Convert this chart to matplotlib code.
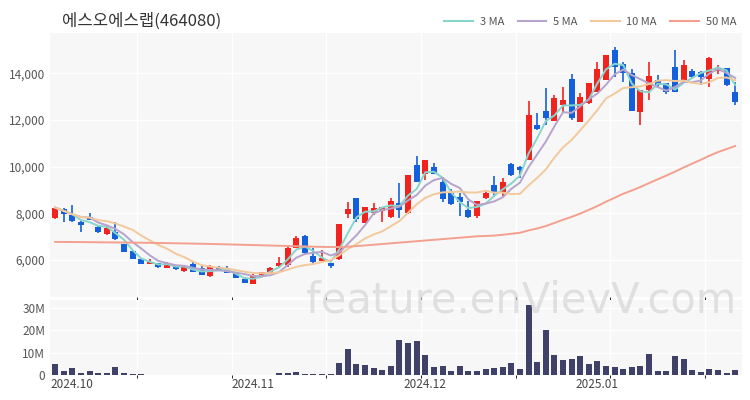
import numpy as np
import pandas as pd
import matplotlib
matplotlib.use("Agg")
import matplotlib.pyplot as plt
from matplotlib.lines import Line2D
from matplotlib.ticker import FuncFormatter

plt.rcParams['font.family'] = ['Noto Sans CJK KR', 'DejaVu Sans']

# daily candles (KRW)
opens = [7800, 8180, 7930, 7630, 7840, 7410, 7110, 7200, 6690, 6390,
         6040, 5830, 5870, 5660, 5800, 5530, 5830, 5660, 5320, 5670,
         5660, 5440, 5190, 4970, 5360, 5430, 5740, 5790, 6510, 7030,
         6170, 5960, 5880, 6030, 7970, 8660, 7600, 8030, 8110, 7830,
         8460, 8000, 10070, 9710, 10000, 9360, 8890, 8690, 8140, 7890,
         8640, 9210, 8860, 10110, 10000, 10310, 11790, 12400, 11970, 12640,
         13740, 11930, 12710, 13210, 13710, 15020, 14420, 14000, 12360, 13290,
         13710, 13570, 14280, 13710, 14110, 14070, 13780, 14110, 14210, 13210]
highs = [8280, 8230, 8360, 7660, 8010, 7450, 7500, 7630, 6700, 6400,
         6050, 6040, 5880, 5900, 5810, 5720, 5960, 5790, 5790, 5740,
         5740, 5450, 5270, 5400, 5510, 5690, 6140, 6570, 7040, 7070,
         6510, 6430, 5890, 7560, 8500, 8680, 8290, 8460, 8280, 8660,
         9310, 9660, 10460, 10310, 10170, 9550, 9040, 8870, 8530, 8540,
         9000, 9600, 9510, 10160, 10020, 12830, 12310, 13360, 13070, 13430,
         13970, 13170, 13600, 14500, 14800, 15140, 14480, 14170, 13300, 14470,
         13930, 13580, 15000, 14570, 14180, 14100, 14700, 14350, 14230, 13610]
lows = [7750, 7630, 7650, 7200, 7700, 7180, 7070, 6880, 6330, 6030,
        5820, 5820, 5660, 5650, 5590, 5470, 5480, 5350, 5270, 5560,
        5430, 5220, 5000, 4960, 5340, 5420, 5700, 5710, 6500, 6280,
        5880, 5950, 5660, 6000, 7800, 7640, 7580, 7930, 7640, 7800,
        7800, 7990, 9340, 9430, 9700, 8500, 8380, 7890, 7820, 7800,
        8630, 8710, 8700, 9600, 9510, 10300, 11590, 11790, 11950, 12300,
        12000, 11920, 12700, 13200, 13700, 13860, 13650, 12400, 11800, 12860,
        13360, 13110, 13200, 13700, 13800, 13500, 13430, 13990, 13480, 12640]
closes = [8250, 7970, 7670, 7500, 7710, 7200, 7370, 6900, 6340, 6040,
          5830, 5910, 5700, 5870, 5600, 5700, 5490, 5360, 5740, 5570,
          5440, 5230, 5010, 5360, 5500, 5670, 5890, 6510, 6940, 6300,
          5930, 6090, 5740, 7540, 8190, 7760, 8270, 8230, 8270, 8530,
          8140, 9640, 9360, 10290, 9710, 8600, 8390, 8470, 7830, 8530,
          8880, 8860, 9360, 9640, 9860, 12210, 11600, 12070, 12930, 12880,
          12070, 13000, 13570, 14170, 14780, 14280, 14000, 12400, 13290, 13880,
          13500, 13210, 13210, 14360, 13830, 13860, 14680, 14210, 13500, 12790]
# volume in millions of shares
volumes = [4.9, 1.9, 3.1, 0.9, 1.6, 0.9, 0.9, 3.6, 0.7, 0.3,
           0.25, 0.2, 0.2, 0.2, 0.2, 0.2, 0.2, 0.15, 0.15, 0.1,
           0.1, 0.1, 0.1, 0.1, 0.1, 0.1, 0.75, 0.9, 1.3, 0.6,
           0.6, 0.6, 0.45, 5.4, 11.6, 4.9, 4.3, 3.1, 2.2, 3.9,
           15.8, 14.3, 15.2, 8.9, 3.7, 4.0, 1.9, 3.9, 1.6, 1.8,
           2.5, 3.3, 3.6, 5.2, 2.7, 31.4, 6.0, 20.1, 8.9, 6.7,
           7.2, 8.3, 4.9, 6.3, 3.9, 3.4, 2.7, 3.4, 4.2, 9.4,
           1.6, 1.6, 8.5, 7.0, 2.2, 1.2, 2.8, 2.4, 1.0, 2.2]
# 50 MA for the first 49 days (needs older history)
ma50_head = [6780, 6778, 6775, 6772, 6768, 6765, 6760, 6757, 6753, 6750,
             6745, 6740, 6735, 6728, 6722, 6715, 6708, 6700, 6692, 6685,
             6675, 6665, 6655, 6645, 6635, 6625, 6615, 6605, 6595, 6585,
             6575, 6568, 6562, 6560, 6575, 6600, 6630, 6660, 6690, 6720,
             6750, 6780, 6810, 6840, 6870, 6900, 6930, 6960, 6990]

tick_pos = [2, 23, 43, 63]
tick_labels = ["2024.10", "2024.11", "2024.12", "2025.01"]

close_s = pd.Series(closes, dtype=float)
ma3 = close_s.rolling(3, min_periods=1).mean()
ma5 = close_s.rolling(5, min_periods=1).mean()
ma10 = close_s.rolling(10, min_periods=1).mean()
ma50 = close_s.rolling(50).mean()
ma50.iloc[:49] = ma50_head

x = np.arange(len(closes))
up_col = '#f0231f'
down_col = '#1460dc'
cols = [up_col if c >= o else down_col for o, c in zip(opens, closes)]

fig = plt.figure(figsize=(7.5, 4), dpi=100)
ax = fig.add_axes([0.0667, 0.2575, 0.9227, 0.66])
axv = fig.add_axes([0.0667, 0.0625, 0.9227, 0.1875])

for a in (ax, axv):
    a.set_facecolor('#f7f7f7')
    for s in a.spines.values():
        s.set_visible(False)
    a.set_xlim(-0.6, 79.8)
    a.tick_params(length=0, labelsize=8.5, labelcolor='#555555')
    a.set_axisbelow(True)
    a.set_xticks([9.5, 20.5, 31.5, 42.5, 53.5, 64.5, 75.5], minor=True)
    a.grid(True, which='minor', axis='x', color='white', lw=1)
    a.grid(True, which='major', axis='y', color='white', lw=1)

# candles
bottoms = np.minimum(opens, closes)
heights = np.maximum(np.abs(np.array(closes) - np.array(opens)), 40)
ax.vlines(x, lows, highs, colors=cols, lw=1.2, zorder=3)
ax.bar(x, heights, bottom=bottoms, width=0.7, color=cols, zorder=3)

ax.plot(x, ma3, color='#86d6cc', lw=1.4, zorder=4)
ax.plot(x, ma5, color='#b6a4cc', lw=1.4, zorder=4)
ax.plot(x, ma10, color='#f3c99c', lw=1.4, zorder=4)
ax.plot(x, ma50, color='#f4a08e', lw=1.4, zorder=4)

ax.set_ylim(4420, 15730)
ax.set_yticks([6000, 8000, 10000, 12000, 14000])
ax.yaxis.set_major_formatter(FuncFormatter(lambda v, p: f"{int(v):,}"))
ax.set_xticks(tick_pos)
ax.set_xticklabels([])
ax.grid(False, which='major', axis='x')

# volume
axv.bar(x, volumes, width=0.7, color='#3f4169', zorder=3)
axv.set_ylim(0, 33.6)
axv.set_yticks([0, 10, 20, 30])
axv.set_yticklabels(["0", "10M", "20M", "30M"])
axv.set_xticks(tick_pos)
axv.set_xticklabels(tick_labels, fontsize=8.5, color='#444444')
axv.tick_params(axis='x', pad=2)

fig.text(0.083, 0.948, "에스오에스랩(464080)", fontsize=12, color='#333333',
         va='center', ha='left')

handles = [Line2D([], [], color=c, lw=1.5) for c in
           ['#86d6cc', '#b6a4cc', '#f3c99c', '#f4a08e']]
fig.legend(handles, ["3 MA", "5 MA", "10 MA", "50 MA"], loc='center right',
           bbox_to_anchor=(0.995, 0.945), ncol=4, frameon=False, fontsize=8,
           handlelength=2.6, columnspacing=1.2, handletextpad=0.6,
           labelcolor='#555555')

fig.text(0.695, 0.248, "feature.enVievV.com", fontsize=30, color='#cfcfcf',
         alpha=0.6, ha='center', va='center', family='DejaVu Sans', zorder=10)

fig.savefig("out.png", dpi=100)
